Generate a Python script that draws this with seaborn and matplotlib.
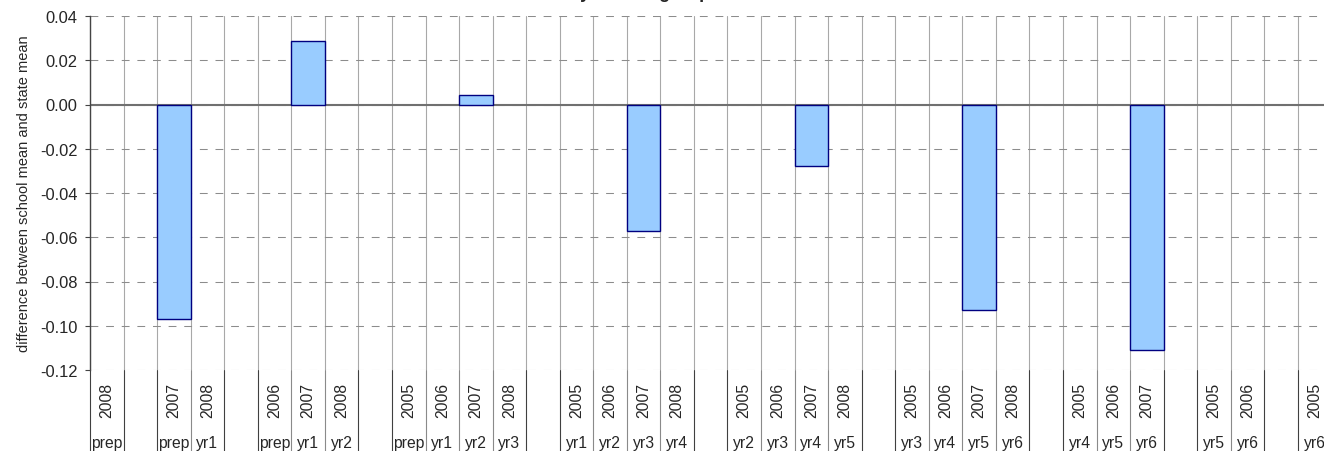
import numpy as np
import pandas as pd
import matplotlib
matplotlib.use('Agg')
import matplotlib.pyplot as plt
import seaborn as sns
from matplotlib.transforms import blended_transform_factory

# category slots (blank strings = empty spacer slots)
years = ['2008', '', '2007', '2008', '',
         '2006', '2007', '2008', '',
         '2005', '2006', '2007', '2008', '',
         '2005', '2006', '2007', '2008', '',
         '2005', '2006', '2007', '2008', '',
         '2005', '2006', '2007', '2008', '',
         '2005', '2006', '2007', '',
         '2005', '2006', '',
         '2005']
groups = ['prep', '', 'prep', 'yr1', '',
          'prep', 'yr1', 'yr2', '',
          'prep', 'yr1', 'yr2', 'yr3', '',
          'yr1', 'yr2', 'yr3', 'yr4', '',
          'yr2', 'yr3', 'yr4', 'yr5', '',
          'yr3', 'yr4', 'yr5', 'yr6', '',
          'yr4', 'yr5', 'yr6', '',
          'yr5', 'yr6', '',
          'yr6']
nan = np.nan
diffs = [nan, nan, -0.097, nan, nan,
         nan, 0.0288, nan, nan,
         nan, nan, 0.0045, nan, nan,
         nan, nan, -0.057, nan, nan,
         nan, nan, -0.028, nan, nan,
         nan, nan, -0.093, nan, nan,
         nan, nan, -0.111, nan,
         nan, nan, nan,
         nan]

df = pd.DataFrame({'slot': [f's{i}' for i in range(len(years))],
                   'year': years, 'group': groups, 'diff': diffs})
n = len(df)

sns.set_style('white')
plt.rcParams['font.family'] = ['Liberation Sans', 'DejaVu Sans']
plt.rcParams['axes.unicode_minus'] = False

W, H = 1324, 452
slot_px = 33.55
fig = plt.figure(figsize=(W / 100, H / 100), dpi=100)
ax = fig.add_axes([90 / W, 81 / H, n * slot_px / W, 354 / H])

sns.barplot(data=df, x='slot', y='diff', order=df['slot'], width=1.0,
            color='#99CCFF', saturation=1, edgecolor='#000080', linewidth=1.0,
            errorbar=None, ax=ax, zorder=3)

ax.set_xlim(-0.5, n - 0.5)
ax.set_ylim(-0.12, 0.04)
ax.set_yticks(np.arange(-0.12, 0.0401, 0.02))
ax.yaxis.set_major_formatter(matplotlib.ticker.FormatStrFormatter('%.2f'))
ax.tick_params(axis='y', direction='out', length=3.6, width=0.8, color='#444444',
               pad=5.5, labelsize=11.9, left=True)
ax.set_xticks(np.arange(-0.5, n, 1.0), minor=True)
ax.tick_params(axis='x', which='both', length=0, labelbottom=False)

ax.set_axisbelow(True)
ax.grid(which='minor', axis='x', color='#a8a8a8', lw=0.8, linestyle='-')
ax.grid(which='major', axis='x', visible=False)
ax.yaxis.grid(True, which='major', color='#8c8c8c', lw=0.75, linestyle=(0, (7.5, 7.5)))
ax.axhline(0, color='#707070', lw=1.5, zorder=2.5)

for s in ['top', 'right', 'bottom']:
    ax.spines[s].set_visible(False)
ax.spines['left'].set_color('#444444')
ax.spines['left'].set_linewidth(1.0)

ax.set_xlabel('')
ax.set_ylabel('difference between school mean and state mean', fontsize=10.5)
ax.yaxis.set_label_coords(-0.0475, 0.5)

# multi-level category labels below the plot
trans = blended_transform_factory(ax.transData, fig.transFigure)
empty = [y == '' for y in years]
for k in range(n + 1):
    edge = k == 0 or k == n or empty[k - 1] or (k < n and empty[k])
    ax.plot([k - 0.5, k - 0.5], [0, 81 / H], transform=trans, clip_on=False,
            color='#404040' if edge else '#8a8a8a', lw=0.8)
for i in range(n):
    if years[i]:
        ax.text(i, 1 - 400.5 / H, years[i], transform=trans, rotation=90,
                ha='center', va='center', fontsize=11.3)
    if groups[i]:
        ax.text(i, 1 - 448.5 / H, groups[i], transform=trans,
                ha='center', va='baseline', fontsize=11.3)

# chart title sits above the visible area, only its descenders show
fig.text(0.405, 1 + 2.5 / H, 'Mean difference for each year and group',
         ha='center', va='baseline', fontsize=13, fontweight='bold')

fig.savefig('out.png', dpi=100)
